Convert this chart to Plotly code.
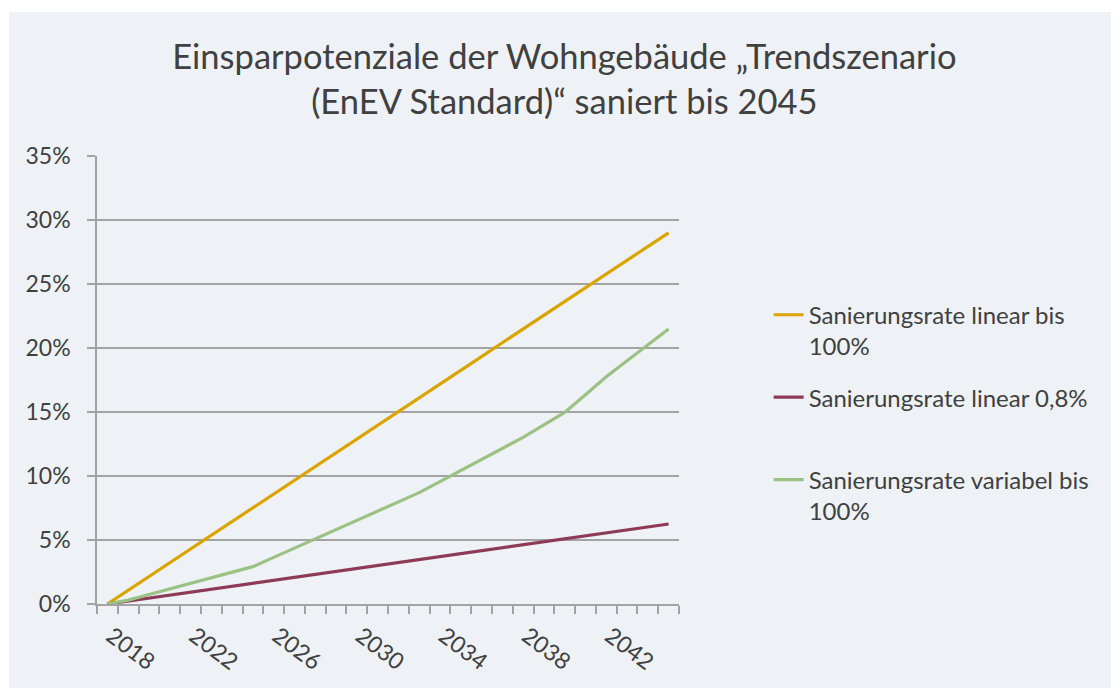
import plotly.graph_objects as go

# ---- data ----
years = [2018, 2019, 2020, 2021, 2022, 2023, 2024, 2025, 2026, 2027,
         2028, 2029, 2030, 2031, 2032, 2033, 2034, 2035, 2036, 2037,
         2038, 2039, 2040, 2041, 2042, 2043, 2044, 2045]

linear_100 = [0.00, 1.07, 2.15, 3.22, 4.30, 5.37, 6.44, 7.52, 8.59, 9.67,
              10.74, 11.81, 12.89, 13.96, 15.04, 16.11, 17.19, 18.26, 19.33, 20.41,
              21.48, 22.56, 23.63, 24.70, 25.78, 26.85, 27.93, 29.00]

linear_08 = [0.00, 0.23, 0.46, 0.70, 0.93, 1.16, 1.39, 1.62, 1.85, 2.08,
             2.31, 2.55, 2.78, 3.01, 3.24, 3.47, 3.70, 3.93, 4.16, 4.40,
             4.63, 4.86, 5.09, 5.32, 5.55, 5.78, 6.01, 6.25]

variabel_100 = [0.00, 0.30, 0.74, 1.18, 1.61, 2.05, 2.48, 2.92, 3.64, 4.37,
                5.09, 5.81, 6.53, 7.26, 7.98, 8.70, 9.56, 10.43, 11.29, 12.16,
                13.02, 14.00, 14.97, 16.35, 17.75, 19.00, 20.25, 21.48]

series_names = ["Sanierungsrate linear bis<br>100%",
                "Sanierungsrate linear 0,8%<br>\u00a0",
                "Sanierungsrate variabel bis<br>100%"]
series_colors = ["#DCA400", "#8C3A55", "#9BC284"]

label_years = [2018, 2022, 2026, 2030, 2034, 2038, 2042]
label_text = [str(y) for y in label_years]

title_text = ("Einsparpotenziale der Wohngebäude \u201eTrendszenario<br>"
              "(EnEV Standard)\u201c saniert bis 2045")

BG = "#EEF2F6"
GRID = "#A3A3A3"
TXT = "#404040"
FONT = "Lato"

fig = go.Figure()
for i, (vals, name, col) in enumerate(zip([linear_100, linear_08, variabel_100],
                                          series_names, series_colors)):
    fig.add_trace(go.Scatter(
        x=years, y=[v / 100 for v in vals], mode="lines", name=name,
        legendgroup=f"g{i}",
        line=dict(color=col, width=3.2),
    ))

fig.update_layout(
    width=1111, height=688,
    margin=dict(l=97, r=432, t=156, b=84, pad=0),
    paper_bgcolor="white",
    plot_bgcolor=BG,
    font=dict(family=FONT, color=TXT, size=23),
    title=dict(text=title_text, x=0.508, xanchor="center", xref="container",
               y=0.90, yanchor="top", yref="container",
               font=dict(family=FONT, size=34.5, color=TXT)),
    showlegend=True,
    legend=dict(x=1.154, xanchor="left", y=0.695, yanchor="top",
                bgcolor="rgba(0,0,0,0)", font=dict(size=24, color=TXT),
                valign="top", traceorder="grouped", tracegroupgap=17,
                itemwidth=30),
    shapes=[dict(type="rect", xref="paper", yref="paper",
                 x0=-0.1512, x1=1.76, y0=-0.2, y1=1.3214,
                 fillcolor=BG, line=dict(width=0), layer="below")],
    xaxis=dict(
        range=[2017.5, 2045.5], tickmode="array", tickvals=label_years,
        ticktext=label_text, ticks="", tickangle=37, showgrid=False,
        zeroline=False, showline=True, linecolor=GRID, linewidth=1.5,
        ticklabelstandoff=8, ticklabelshift=4, automargin=False,
        tickfont=dict(size=23, color=TXT),
        minor=dict(tickmode="linear", tick0=2017.5, dtick=1, ticks="outside",
                   ticklen=8, tickcolor=GRID, tickwidth=1.5, showgrid=False),
    ),
    yaxis=dict(
        range=[0, 0.35], dtick=0.05, tick0=0, tickformat=".0%",
        showgrid=True, gridcolor=GRID, gridwidth=1.5,
        zeroline=False, showline=True, linecolor=GRID, linewidth=1.5,
        ticks="outside", ticklen=8, tickcolor=GRID, tickwidth=1.5,
        ticklabelstandoff=12, automargin=False,
        tickfont=dict(size=23, color=TXT),
    ),
)

fig.write_html("out.html", config={"displayModeBar": False},
               post_script="document.body.style.margin='0';")
